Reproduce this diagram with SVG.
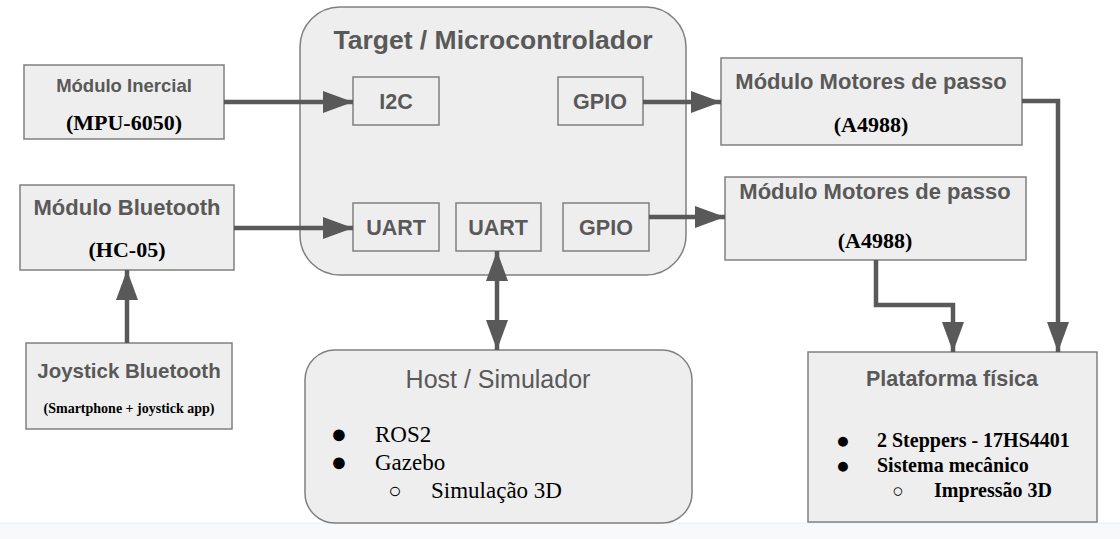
<svg xmlns="http://www.w3.org/2000/svg" width="1120" height="539" viewBox="0 0 1120 539">
<style>
.box{fill:#eeeeee;stroke:#808080;stroke-width:1.5}
.h{font-family:"Liberation Sans",Arial,sans-serif;font-weight:bold;fill:#595959;text-anchor:middle}
.s{font-family:"Liberation Serif","Times New Roman",serif;font-weight:bold;fill:#000;text-anchor:middle}
.l{font-family:"Liberation Serif","Times New Roman",serif;fill:#000}
.b{font-family:"Liberation Serif","Times New Roman",serif;fill:#000;text-anchor:middle}
.c{fill:none;stroke:#595959;stroke-width:4.5}
</style>
<defs>
<marker id="a" viewBox="0 0 30 22" refX="30" refY="11" markerWidth="30" markerHeight="22" markerUnits="userSpaceOnUse" orient="auto-start-reverse">
<path d="M0,0 L30,11 L0,22 Z" fill="#595959"/>
</marker>
</defs>
<rect x="0" y="523" width="1120" height="16" fill="#f8f9fa"/>
<line x1="0" y1="523" x2="1120" y2="523" stroke="#eceef0" stroke-width="1"/>

<g id="target">
<rect class="box" x="300" y="7" width="386" height="268" rx="40"/>
<text class="h" x="493" y="49" font-size="26.5">Target / Microcontrolador</text>
</g>
<g id="i2c"><rect class="box" x="353" y="77" width="86" height="48"/><text class="h" x="396" y="109" font-size="21.5">I2C</text></g>
<g id="gpio1"><rect class="box" x="558" y="77" width="85" height="48"/><text class="h" x="600" y="109" font-size="21.5">GPIO</text></g>
<g id="uart1"><rect class="box" x="353" y="203" width="86" height="48"/><text class="h" x="396" y="235" font-size="21.5">UART</text></g>
<g id="uart2"><rect class="box" x="456" y="203" width="85" height="48"/><text class="h" x="498" y="235" font-size="21.5">UART</text></g>
<g id="gpio2"><rect class="box" x="563" y="203" width="86" height="48"/><text class="h" x="606" y="235" font-size="21.5">GPIO</text></g>

<g id="inercial">
<rect class="box" x="24" y="65" width="200" height="74"/>
<text class="h" x="124" y="92" font-size="18.5">Módulo Inercial</text>
<text class="s" x="124" y="130" font-size="22">(MPU-6050)</text>
</g>
<g id="bluetooth">
<rect class="box" x="20" y="185" width="214" height="85"/>
<text class="h" x="127" y="215" font-size="22">Módulo Bluetooth</text>
<text class="s" x="127" y="257" font-size="22">(HC-05)</text>
</g>
<g id="joystick">
<rect class="box" x="26" y="343" width="206" height="86"/>
<text class="h" x="129" y="378" font-size="20.5">Joystick Bluetooth</text>
<text class="s" x="129" y="413" font-size="14">(Smartphone + joystick app)</text>
</g>
<g id="motor1">
<rect class="box" x="721" y="58" width="301" height="87"/>
<text class="h" x="871" y="89" font-size="22">Módulo Motores de passo</text>
<text class="s" x="871" y="132" font-size="22">(A4988)</text>
</g>
<g id="motor2">
<rect class="box" x="725" y="177" width="301" height="83"/>
<text class="h" x="875" y="199" font-size="22">Módulo Motores de passo</text>
<text class="s" x="875" y="248" font-size="22">(A4988)</text>
</g>
<g id="host">
<rect class="box" x="305" y="350" width="387" height="173" rx="30"/>
<text x="498" y="388" font-size="25" fill="#595959" text-anchor="middle" font-family="Liberation Sans,Arial,sans-serif">Host / Simulador</text>
<text class="b" x="339" y="443" font-size="27">●</text>
<text class="l" x="375" y="442" font-size="23">ROS2</text>
<text class="b" x="339" y="471" font-size="27">●</text>
<text class="l" x="375" y="470" font-size="23">Gazebo</text>
<text class="b" x="395" y="498" font-size="22">○</text>
<text class="l" x="431" y="498" font-size="23">Simulação 3D</text>
</g>
<g id="plataforma">
<rect class="box" x="808" y="352" width="289" height="170"/>
<text class="h" x="952" y="386" font-size="21.5">Plataforma física</text>
<text class="b" x="843" y="448" font-size="23">●</text>
<text class="l" x="877" y="447" font-size="20" font-weight="bold">2 Steppers - 17HS4401</text>
<text class="b" x="843" y="473" font-size="23">●</text>
<text class="l" x="877" y="472" font-size="20" font-weight="bold">Sistema mecânico</text>
<text class="b" x="898" y="497" font-size="19">○</text>
<text class="l" x="934" y="497" font-size="20" font-weight="bold">Impressão 3D</text>
</g>

<g id="connectors">
<path class="c" d="M224,102 H353" marker-end="url(#a)"/>
<path class="c" d="M234,228 H353" marker-end="url(#a)"/>
<path class="c" d="M127,343 V270" marker-end="url(#a)"/>
<path class="c" d="M643,102 H721" marker-end="url(#a)"/>
<path class="c" d="M649,217 H725" marker-end="url(#a)"/>
<path class="c" d="M497,251 V350" marker-start="url(#a)" marker-end="url(#a)"/>
<path class="c" d="M1022,101 H1058 V352" marker-end="url(#a)"/>
<path class="c" d="M876,260 V305 H953 V352" marker-end="url(#a)"/>
</g>
</svg>
